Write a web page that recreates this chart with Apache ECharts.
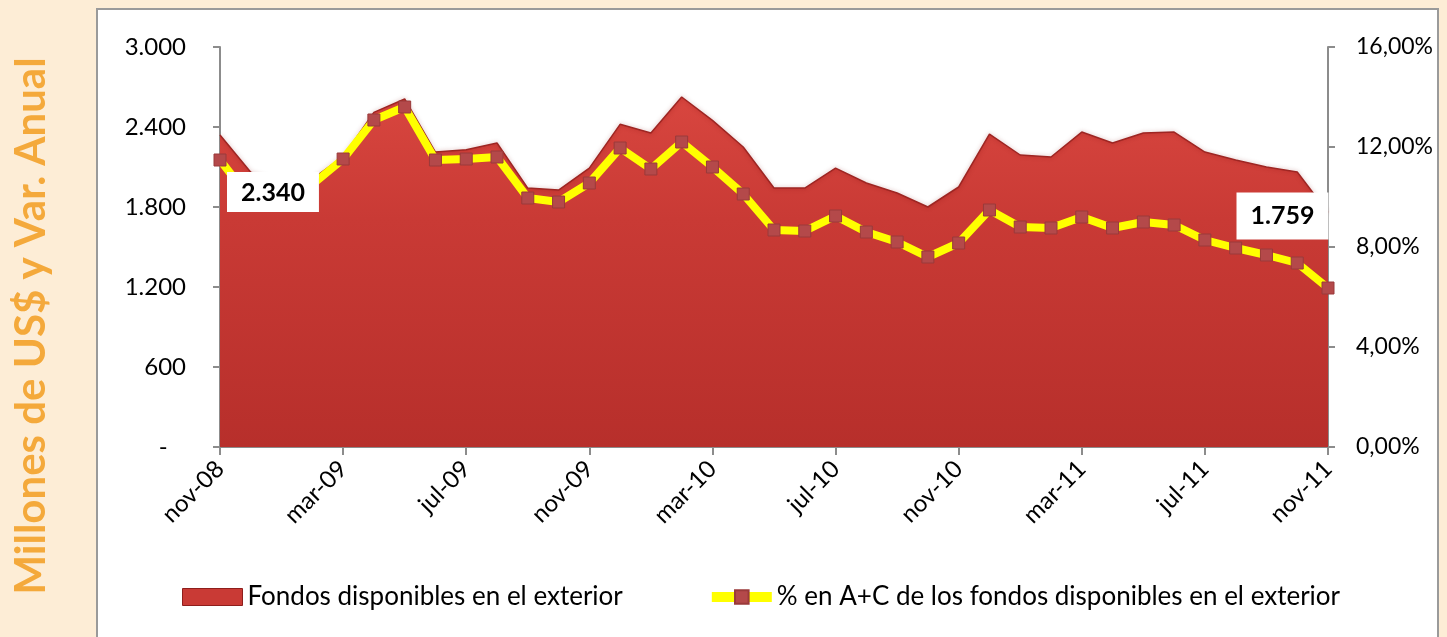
<!DOCTYPE html>
<html>
<head>
<meta charset="utf-8">
<script src="https://cdn.jsdelivr.net/npm/echarts@6/dist/echarts.min.js"></script>
<style>
html,body{margin:0;padding:0;background:#FDEDD6;}
#chart{width:1447px;height:637px;}
</style>
</head>
<body>
<div id="chart"></div>
<script>
const categories = ['nov-08','dic-08','ene-09','feb-09','mar-09','abr-09','may-09','jun-09','jul-09','ago-09','sep-09','oct-09',
  'nov-09','dic-09','ene-10','feb-10','mar-10','abr-10','may-10','jun-10','jul-10','ago-10','sep-10','oct-10',
  'nov-10','dic-10','ene-11','feb-11','mar-11','abr-11','may-11','jun-11','jul-11','ago-11','sep-11','oct-11','nov-11'];
const fondos = [2340,2060,1990,2010,2180,2510,2610,2212,2230,2280,1942,1927,
  2092,2420,2355,2625,2450,2250,1942,1942,2092,1980,1905,1800,
  1950,2347,2190,2175,2362,2280,2355,2362,2212,2152,2100,2062,1759];
const porcentaje = [11.48,9.9,9.8,10.5,11.52,13.08,13.6,11.48,11.52,11.6,9.96,9.8,
  10.56,11.96,11.12,12.2,11.2,10.12,8.68,8.64,9.24,8.6,8.2,7.6,
  8.16,9.48,8.8,8.76,9.2,8.76,9.0,8.88,8.28,7.96,7.68,7.36,6.36];
const leftTicks = [0,600,1200,1800,2400,3000];
const rightTicks = [0,4,8,12,16];
const seriesNames = ['Fondos disponibles en el exterior','% en A+C de los fondos disponibles en el exterior'];
const yTitle = 'Millones de US$ y Var. Anual';

const FONT = 'Lato, "Open Sans", sans-serif';
function fmtThousands(v){
  if (v === 0) return '-';
  return String(v).replace(/\B(?=(\d{3})+(?!\d))/g, '.');
}
// which points carry a value label, and how the label box sits
const labelStyle = {
  0: {position:[7.5,37.5], padding:[8,14,7,14]},
  36:{position:[-91,-19.5], padding:[11,14,11,14]}
};
const labelData = fondos.map((v,i)=>{
  const s = labelStyle[i];
  if (!s) return '-';
  return {value:v, symbol:'circle', symbolSize:1, itemStyle:{color:'rgba(0,0,0,0)'},
    label:{show:true, position:s.position, padding:s.padding, formatter:()=>fmtThousands(v),
      backgroundColor:'#ffffff', color:'#000', fontWeight:'bold', fontSize:25, fontFamily:FONT}};
});

const chart = echarts.init(document.getElementById('chart'), null, {renderer:'canvas'});
chart.setOption({
  backgroundColor:'#FDEDD6',
  animation:false,
  graphic:[
    {type:'rect', z:-10, shape:{x:97,y:9,width:1341,height:640},
      style:{fill:'#ffffff', stroke:'#9A9A9A', lineWidth:2}},
    {type:'text', z:-5, x:31, y:326, rotation:Math.PI/2,
      style:{text:yTitle, fill:'#F4A93B', font:'bold 42px ' + FONT, textAlign:'center', textVerticalAlign:'middle'}}
  ],
  grid:{left:220, right:119, top:47, bottom:190},
  legend:{
    left:177, top:579, itemGap:84, itemWidth:60, itemHeight:17,
    textStyle:{fontSize:26, fontFamily:FONT, color:'#000'},
    data:[
      {name:seriesNames[0], icon:'rect', itemStyle:{color:'#C93A35', borderColor:'#8E1E1C', borderWidth:1}},
      {name:seriesNames[1], lineStyle:{color:'#FFFF00', width:10}}
    ]
  },
  xAxis:{
    type:'category', data:categories, boundaryGap:false,
    axisLine:{lineStyle:{color:'#8C8C8C', width:2}},
    axisTick:{interval:3, length:8, lineStyle:{color:'#8C8C8C', width:2}},
    axisLabel:{interval:3, rotate:45, margin:18, fontSize:24, fontFamily:FONT, color:'#000'}
  },
  yAxis:[
    {type:'value', min:0, max:3000, interval:600, position:'left',
      splitLine:{show:false},
      axisLine:{show:true, lineStyle:{color:'#8C8C8C', width:2}},
      axisTick:{show:true, length:7, lineStyle:{color:'#8C8C8C', width:2}},
      axisLabel:{margin:34, fontSize:24, fontFamily:FONT, color:'#000',
        formatter:v=> v === 0 ? '-   ' : fmtThousands(v)}},
    {type:'value', min:0, max:16, interval:4, position:'right',
      splitLine:{show:false},
      axisLine:{show:true, lineStyle:{color:'#8C8C8C', width:2}},
      axisTick:{show:true, length:7, lineStyle:{color:'#8C8C8C', width:2}},
      axisLabel:{margin:28, fontSize:23, fontFamily:FONT, color:'#000', formatter:v=>v.toFixed(2).replace('.',',')+'%'}}
  ],
  series:[
    {name:seriesNames[0], type:'line', yAxisIndex:0, data:fondos, symbol:'none',
      z:2,
      lineStyle:{color:'#9E2623', width:1.5, shadowColor:'rgba(120,0,0,0.35)', shadowBlur:4},
      areaStyle:{opacity:1, color:new echarts.graphic.LinearGradient(0,0,0,1,[
        {offset:0,color:'#D8463F'},{offset:0.35,color:'#C93A35'},{offset:1,color:'#B72F2B'}])},
      itemStyle:{color:'#C93A35'},
      emphasis:{disabled:true}
    },
    {name:seriesNames[1], type:'line', yAxisIndex:1, data:porcentaje, z:5,
      symbol:'rect', symbolSize:12, showSymbol:true,
      lineStyle:{color:'#FFFF00', width:8},
      itemStyle:{color:'#B4494A', borderColor:'#9A3A3A', borderWidth:1},
      emphasis:{disabled:true}
    },
    {name:'etiquetas', type:'line', yAxisIndex:0, data:labelData, z:10,
      showSymbol:true, lineStyle:{opacity:0}, emphasis:{disabled:true}, silent:true}
  ]
});
</script>
</body>
</html>
